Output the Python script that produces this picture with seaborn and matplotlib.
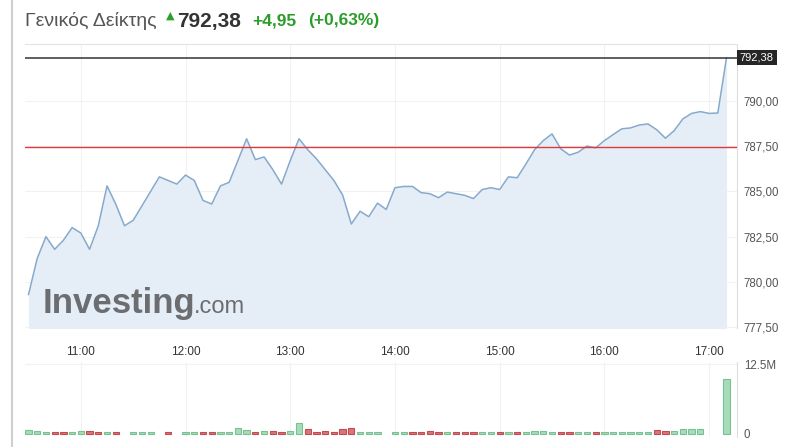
import pandas as pd
import seaborn as sns
import matplotlib as mpl
mpl.use('Agg')
import matplotlib.pyplot as plt
from matplotlib.lines import Line2D

# 5-minute intraday data
times = pd.date_range('2024-01-01 10:30', '2024-01-01 17:10', freq='5min')
prices = [
    779.3, 781.3, 782.5, 781.8, 782.3, 783.0, 782.7, 781.8, 783.1, 785.3,
    784.3, 783.1, 783.4, 784.2, 785.0, 785.8, 785.6, 785.4, 785.9, 785.6,
    784.5, 784.3, 785.3, 785.5, 786.7, 787.9, 786.75, 786.9, 786.2, 785.4,
    786.7, 787.9, 787.3, 786.8, 786.2, 785.6, 784.8, 783.2, 783.9, 783.6,
    784.35, 784.0, 785.2, 785.27, 785.27, 784.93, 784.87, 784.65, 784.96, 784.87,
    784.78, 784.6, 785.1, 785.2, 785.1, 785.8, 785.75, 786.5, 787.3, 787.8,
    788.17, 787.35, 787.0, 787.16, 787.5, 787.4, 787.8, 788.13, 788.45, 788.5,
    788.66, 788.72, 788.4, 787.93, 788.35, 789.0, 789.3, 789.4, 789.3, 789.32,
    792.38,
]
volumes = [
    0.7, 0.55, 0.35, 0.35, 0.35, 0.35, 0.55, 0.55, 0.35, 0.35,
    0.35, 0.0, 0.35, 0.35, 0.35, 0.0, 0.35, 0.0, 0.35, 0.35,
    0.35, 0.35, 0.35, 0.35, 1.1, 0.7, 0.35, 0.5, 0.5, 0.35,
    0.5, 2.0, 0.9, 0.35, 0.5, 0.35, 0.9, 1.1, 0.35, 0.35,
    0.35, 0.0, 0.35, 0.35, 0.35, 0.35, 0.55, 0.35, 0.35, 0.35,
    0.35, 0.35, 0.35, 0.35, 0.35, 0.35, 0.35, 0.35, 0.55, 0.55,
    0.35, 0.35, 0.35, 0.35, 0.35, 0.35, 0.35, 0.35, 0.35, 0.35,
    0.35, 0.35, 0.7, 0.5, 0.55, 0.85, 0.85, 0.85, 0.0, 0.0,
    9.8,
]
# g = up bar, r = down bar, - = no trade
vol_dir = list(
    'gggrrggrrg'
    'r-ggg-r-gg'
    'rrggggrgrr'
    'ggrrrrrrgg'
    'g-ggrrrrgr'
    'rrggrgrggg'
    'grrggrgggg'
    'ggrrgggg--'
    'g'
)
last_price = 792.38
prev_close = 787.43
y_ticks = [777.5, 780.0, 782.5, 785.0, 787.5, 790.0]
x_ticks = ['11:00', '12:00', '13:00', '14:00', '15:00', '16:00', '17:00']

df = pd.DataFrame({'time': times, 'price': prices, 'volume': volumes, 'dir': vol_dir})

sns.set_style('white')
plt.rcParams['font.family'] = ['Liberation Sans', 'DejaVu Sans']

fig = plt.figure(figsize=(8, 4.47), dpi=100)
W, H = 800, 447


def fx(px):
    return px / W


def fy(py):
    return 1 - py / H


ax = fig.add_axes([fx(25), fy(328), fx(737) - fx(25), fy(44) - fy(328)])
axv = fig.add_axes([fx(25), fy(437), fx(737) - fx(25), fy(362) - fy(437)], sharex=ax)

# price area
ax.fill_between(df['time'], df['price'], 777.0, color='#e5eef6', lw=0, zorder=1)
sns.lineplot(data=df, x='time', y='price', ax=ax, color='#86a9cc', lw=1.1, zorder=3)
ax.axhline(prev_close, color='#e0383e', lw=1.0, zorder=4)
ax.axhline(last_price, color='#333333', lw=1.1, zorder=4)

ax.set_ylim(777.46, 793.13)
ax.set_xlim(pd.Timestamp('2024-01-01 10:28'), pd.Timestamp('2024-01-01 17:16'))
ax.set_yticks(y_ticks)
ax.set_yticklabels([f'{v:.2f}'.replace('.', ',') for v in y_ticks])
ax.yaxis.tick_right()
ax.tick_params(axis='y', length=0, pad=5, labelsize=8.3, labelcolor='#555555')

xt = [pd.Timestamp(f'2024-01-01 {t}') for t in x_ticks]
ax.set_xticks(xt)
ax.set_xticklabels(x_ticks)
ax.tick_params(axis='x', length=0, pad=13, labelsize=8.5, labelcolor='#333333')
ax.set_xlabel('')
ax.set_ylabel('')
ax.grid(True, color='#f2f2f2', lw=0.8, zorder=0)
for s in ['left', 'bottom']:
    ax.spines[s].set_visible(False)
ax.spines['top'].set_color('#e4e4e4')
ax.spines['right'].set_color('#dddddd')

ax.text(1.004, last_price, f'{last_price:.2f}'.replace('.', ','),
        transform=ax.get_yaxis_transform(), ha='left', va='center',
        fontsize=8, color='white',
        bbox=dict(boxstyle='square,pad=0.25', fc='#262626', ec='none'))

# watermark
ax.text(0.025, 0.052, 'Investing', transform=ax.transAxes, fontsize=25,
        fontweight='bold', color='#6b6d70', ha='left', va='baseline', zorder=5)
ax.text(0.237, 0.052, '.com', transform=ax.transAxes, fontsize=17,
        color='#6b6d70', ha='left', va='baseline', zorder=5)

# volume bars
bw = pd.Timedelta(minutes=3.6)
colors = {'g': ('#a9dbb9', '#78c193'), 'r': ('#dc7478', '#c14d52')}
for _, r in df[df['volume'] > 0].iterrows():
    fc, ec = colors[r['dir']]
    axv.bar(r['time'], r['volume'], width=bw, color=fc, edgecolor=ec, lw=0.8, zorder=3)
axv.set_ylim(-0.54, 12.86)
axv.set_yticks([0, 12.5])
axv.set_yticklabels(['0', '12.5M'])
axv.yaxis.tick_right()
axv.tick_params(axis='y', length=0, pad=5, labelsize=8.3, labelcolor='#555555')
axv.tick_params(axis='x', length=0, labelbottom=False)
axv.grid(True, axis='x', color='#f2f2f2', lw=0.8, zorder=0)
axv.axhline(12.5, color='#f2f2f2', lw=0.8, zorder=0)
for s in ['left', 'bottom', 'top']:
    axv.spines[s].set_visible(False)
axv.spines['right'].set_color('#dddddd')
axv.set_xlabel('')
ax.set_xticks(xt)
ax.set_xticklabels(x_ticks)

# page border
fig.add_artist(Line2D([fx(12), fx(12)], [0, 1], color='#cfcfcf', lw=1.5))

# header
fig.text(fx(25), fy(21), 'Γενικός Δείκτης', fontsize=14, color='#555555', va='center')
fig.text(fx(170), fy(16), '▲', fontsize=8, color='#2ca02c', ha='center', va='center',
         family=['DejaVu Sans'])
fig.text(fx(177), fy(21), '792,38', fontsize=15, fontweight='bold', color='#333333', va='center')
fig.text(fx(252), fy(21), '+4,95', fontsize=12.5, fontweight='bold', color='#2a9d2a', va='center')
fig.text(fx(308), fy(21), '(+0,63%)', fontsize=12.5, fontweight='bold', color='#2a9d2a', va='center')

plt.savefig('out.png', dpi=100)
